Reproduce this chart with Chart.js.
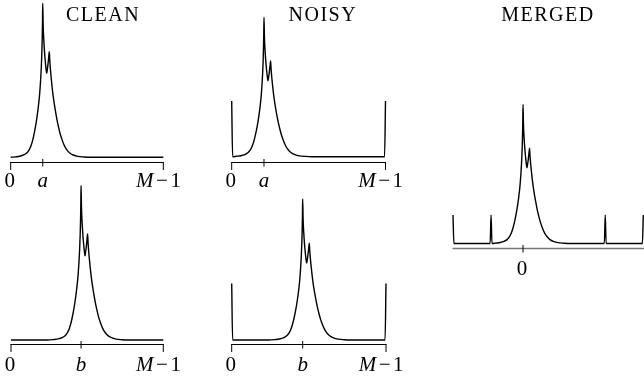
<!DOCTYPE html>
<html><head><meta charset="utf-8">
<script src="https://cdn.jsdelivr.net/npm/chart.js@4"></script>
<style>
html,body{margin:0;padding:0;background:#fff;}
#wrap{position:relative;width:644px;height:379px;overflow:hidden;background:#fff;}
canvas{position:absolute;left:0;top:0;}
</style></head><body><div id="wrap"></div>
<script>
// ---- data ----
// double-peak profile: offset from the peak position (samples) and height (main peak = 1)
const peakOffsets = [-22, -18, -15, -12.5, -10.5, -9, -7.7, -6.5, -5.4, -4.4, -3.5, -2.7, -2.0, -1.4, -0.9, -0.55, -0.3, -0.15, 0,
                     0.3, 0.7, 1.2, 1.7, 2.2, 2.6, 3.0, 3.5, 3.9, 4.3,
                     4.6, 5.0, 5.5, 6.1, 6.8, 7.6, 8.5, 9.5, 10.5, 11.5, 12.8, 14.2, 15.7, 17.5, 20, 23, 27, 31];
const peakValues  = [0, 0.003, 0.007, 0.015, 0.028, 0.047, 0.075, 0.115, 0.165, 0.22, 0.28, 0.345, 0.415, 0.50, 0.595, 0.69, 0.79, 0.88, 1.0,
                     0.85, 0.76, 0.68, 0.62, 0.57, 0.545, 0.57, 0.61, 0.65, 0.686,
                     0.63, 0.575, 0.52, 0.46, 0.40, 0.345, 0.29, 0.235, 0.19, 0.15, 0.11, 0.075, 0.05, 0.03, 0.015, 0.006, 0.002, 0];
const a = 21;
const b = 46;
const lastIndex = 100;
const noisySpikePositions = [0, lastIndex];
const noisySpikeHeight = 0.40;
const mergedSpikePositions = [-b, -a, lastIndex - b, lastIndex - a];
const mergedSpikeHeight = 0.205;
const spikeShapeOffsets = [-0.6, 0, 0.6];
const spikeShapeValues = [0, 1, 0];
const titles = ['CLEAN', 'NOISY', 'MERGED'];
const tickValuesA = [0, a, lastIndex];
const tickLabelsA = ['0', 'a', 'M\u22121'];
const tickValuesB = [0, b, lastIndex];
const tickLabelsB = ['0', 'b', 'M\u22121'];
const tickValuesMerged = [0];
const tickLabelsMerged = ['0'];

// ---- building ----
const W = 644, H = 379;
const FONT = '"Liberation Serif", "DejaVu Serif", serif';

function buildPoints(center, spikes, spikeH, xMin, xMax) {
  const acc = new Map();
  const add = (x, y) => {
    x = Math.round(x * 1000) / 1000;
    if (x < xMin || x > xMax) return;
    acc.set(x, (acc.get(x) || 0) + y);
  };
  add(xMin, 0); add(xMax, 0);
  peakOffsets.forEach((o, i) => add(center + o, peakValues[i]));
  spikes.forEach(s => spikeShapeOffsets.forEach((o, i) => add(s + o, spikeH * spikeShapeValues[i])));
  return [...acc.entries()].sort((p, q) => p[0] - q[0]).map(([x, y]) => ({x, y}));
}

function drawLabel(ctx, text, cx, baseline, size) {
  const parts = [];
  for (const ch of text) {
    const italic = /[A-Za-z]/.test(ch);
    const pad = ch === '\u2212' ? 2.5 : 0;
    ctx.font = (italic ? 'italic ' : '') + size + 'px ' + FONT;
    parts.push({ch, italic, pad, w: ctx.measureText(ch).width});
  }
  const total = parts.reduce((s, p) => s + p.w + 2 * p.pad, 0);
  let x = cx - total / 2;
  ctx.textAlign = 'left';
  ctx.textBaseline = 'alphabetic';
  for (const p of parts) {
    ctx.font = (p.italic ? 'italic ' : '') + size + 'px ' + FONT;
    x += p.pad;
    ctx.fillText(p.ch, x, baseline);
    x += p.w + p.pad;
  }
}

const panelDecor = {
  id: 'panelDecor',
  afterDraw(chart) {
    const cfg = chart.options.plugins.panelDecor;
    if (!cfg) return;
    const ctx = chart.ctx, xs = chart.scales.x, area = chart.chartArea;
    const y0 = cfg.axisY;
    ctx.save();
    ctx.fillStyle = '#000';
    ctx.strokeStyle = cfg.axisColor; ctx.lineWidth = cfg.axisWidth;
    ctx.beginPath();
    ctx.moveTo(area.left - 0.5, y0);
    ctx.lineTo(cfg.axisToEdge ? W : area.right + 0.5, y0);
    ctx.stroke();
    ctx.strokeStyle = '#000'; ctx.lineWidth = 1;
    cfg.tickValues.forEach((v, i) => {
      const x = xs.getPixelForValue(v);
      const end = cfg.bracketEnds && (v === xs.min || v === xs.max);
      ctx.beginPath();
      if (end) { ctx.moveTo(x, y0 - 0.5); ctx.lineTo(x, y0 + 7.5); }
      else { ctx.moveTo(x, y0 - 3.5); ctx.lineTo(x, y0 + 4); }
      ctx.stroke();
      const lbl = cfg.tickLabels[i];
      const dx = lbl === '0' ? -1 : (lbl.length > 1 ? -4.8 : 0);
      drawLabel(ctx, lbl, x + dx, cfg.labelBaseline, 21);
    });
    if (cfg.title) {
      ctx.font = '20px ' + FONT;
      ctx.letterSpacing = '1.5px';
      ctx.textAlign = 'center';
      ctx.textBaseline = 'alphabetic';
      ctx.fillText(cfg.title.text, cfg.title.x, cfg.title.y);
    }
    ctx.restore();
  }
};

const wrap = document.getElementById('wrap');

function makeChart(p) {
  const canvas = document.createElement('canvas');
  canvas.width = W; canvas.height = H;
  canvas.style.width = W + 'px'; canvas.style.height = H + 'px';
  wrap.appendChild(canvas);
  const span = p.base - p.peak;
  const top = Math.max(0, p.peak - 4);
  const yMin = -(p.axis - p.base) / span;
  const yMax = 1 + (p.peak - top) / span;
  new Chart(canvas, {
    type: 'line',
    data: {datasets: [{data: p.points, borderColor: '#000', borderWidth: 1.4, pointRadius: 0,
      cubicInterpolationMode: 'monotone', fill: false, clip: false}]},
    options: {
      responsive: false, animation: false, devicePixelRatio: 1, events: [],
      layout: {padding: {left: p.left, right: W - p.right, top: top, bottom: H - p.axis}},
      scales: {
        x: {type: 'linear', min: p.xMin, max: p.xMax, display: false},
        y: {type: 'linear', min: yMin, max: yMax, display: false}
      },
      plugins: {legend: {display: false}, tooltip: {enabled: false}, panelDecor: p.decor}
    },
    plugins: [panelDecor]
  });
}

const panels = [
  {xMin: 0, xMax: lastIndex, left: 10.7, right: 163.3, base: 157.3, peak: 3.3, axis: 162.7,
   points: buildPoints(a, [], 0, 0, lastIndex),
   decor: {axisY: 162.5, axisColor: '#000', axisWidth: 1, bracketEnds: true, tickValues: tickValuesA, tickLabels: tickLabelsA,
           labelBaseline: 187, title: {text: titles[0], x: 103, y: 20.7}}},
  {xMin: 0, xMax: lastIndex, left: 231.7, right: 385.5, base: 156.7, peak: 17.3, axis: 162.7,
   points: buildPoints(a, noisySpikePositions, noisySpikeHeight, 0, lastIndex),
   decor: {axisY: 162.5, axisColor: '#000', axisWidth: 1, bracketEnds: true, tickValues: tickValuesA, tickLabels: tickLabelsA,
           labelBaseline: 187, title: {text: titles[1], x: 322.8, y: 20.7}}},
  {xMin: 0, xMax: lastIndex, left: 11, right: 163.3, base: 340, peak: 185.5, axis: 344,
   points: buildPoints(b, [], 0, 0, lastIndex),
   decor: {axisY: 344.5, axisColor: '#000', axisWidth: 1, bracketEnds: true, tickValues: tickValuesB, tickLabels: tickLabelsB,
           labelBaseline: 371}},
  {xMin: 0, xMax: lastIndex, left: 231.7, right: 386, base: 340, peak: 199, axis: 344.3,
   points: buildPoints(b, noisySpikePositions, noisySpikeHeight, 0, lastIndex),
   decor: {axisY: 344.5, axisColor: '#000', axisWidth: 1, bracketEnds: true, tickValues: tickValuesB, tickLabels: tickLabelsB,
           labelBaseline: 371}},
  {xMin: -b, xMax: lastIndex - a, left: 453, right: 643.3, base: 243.5, peak: 104.5, axis: 248.5,
   points: buildPoints(0, mergedSpikePositions, mergedSpikeHeight, -b, lastIndex - a),
   decor: {axisY: 248.5, axisColor: '#777', axisWidth: 1.6, bracketEnds: false, axisToEdge: true,
           tickValues: tickValuesMerged, tickLabels: tickLabelsMerged, labelBaseline: 275,
           title: {text: titles[2], x: 548, y: 20.7}}}
];
panels.forEach(makeChart);
</script></body></html>
